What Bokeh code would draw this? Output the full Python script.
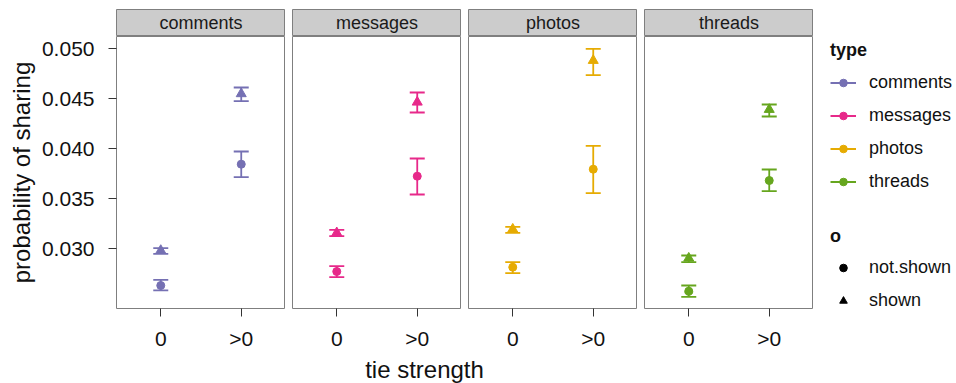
from bokeh.plotting import figure
from bokeh.models import (Range1d, FactorRange, FixedTicker, NumeralTickFormatter, Whisker,
                          TeeHead, ColumnDataSource, Label, Legend, LegendItem)
from bokeh.layouts import row, column
from bokeh.embed import file_html
from bokeh.resources import INLINE

# ---------------- data ----------------
types = ["comments", "messages", "photos", "threads"]
tie_strength = ["0", ">0"]
colors = ["#7570B3", "#E7298A", "#E6AB02", "#66A61E"]

# o = not.shown (circle)
not_shown_mean = [[0.02633, 0.03846], [0.02773, 0.03726], [0.02816, 0.03796], [0.02576, 0.03683]]
not_shown_lo = [[0.02585, 0.03716], [0.02716, 0.03543], [0.02756, 0.03556], [0.02520, 0.03576]]
not_shown_hi = [[0.02690, 0.03973], [0.02826, 0.03903], [0.02866, 0.04030], [0.02633, 0.03793]]
# o = shown (triangle)
shown_mean = [[0.02983, 0.04550], [0.03160, 0.04466], [0.03196, 0.04883], [0.02906, 0.04393]]
shown_lo = [[0.02950, 0.04476], [0.03126, 0.04363], [0.03160, 0.04736], [0.02866, 0.04323]]
shown_hi = [[0.03006, 0.04613], [0.03190, 0.04563], [0.03220, 0.05000], [0.02933, 0.04443]]

y_ticks = [0.030, 0.035, 0.040, 0.045, 0.050]

FONT = "Liberation Sans"
GREY = "#7f7f7f"
Y_START, Y_END = 0.02403, 0.05123


def base_fig(**kw):
    p = figure(output_backend="svg", toolbar_location=None, min_border_left=0,
               min_border_right=0, min_border_top=0, min_border_bottom=0, **kw)
    p.grid.visible = False
    return p


strips, panels = [], []
for i, t in enumerate(types):
    c = colors[i]
    left = 116 if i == 0 else 7
    # strip
    s = base_fig(x_range=Range1d(0, 1), y_range=Range1d(0, 1), frame_width=169, frame_height=27,
                 x_axis_location=None, y_axis_location=None, background_fill_color="#cccccc",
                 outline_line_color=GREY)
    s.min_border_left = left
    s.min_border_top = 9
    s.add_layout(Label(x=0.5, y=0.5, text=t, text_align="center", text_baseline="middle",
                       text_font_size="18px", text_font=FONT, text_color="#1a1a1a"))
    strips.append(s)

    # panel
    p = base_fig(x_range=FactorRange(factors=tie_strength, range_padding=0.05),
                 y_range=Range1d(Y_START, Y_END), frame_width=169, frame_height=272,
                 y_axis_location="left" if i == 0 else None, outline_line_color=GREY)
    p.min_border_left = left
    p.min_border_bottom = 47

    src_ns = ColumnDataSource(dict(x=tie_strength, y=not_shown_mean[i],
                                   lo=not_shown_lo[i], hi=not_shown_hi[i]))
    src_sh = ColumnDataSource(dict(x=tie_strength, y=shown_mean[i],
                                   lo=shown_lo[i], hi=shown_hi[i]))
    for src in (src_ns, src_sh):
        p.add_layout(Whisker(source=src, base="x", upper="hi", lower="lo", dimension="height",
                             line_color=c, line_width=1.8,
                             upper_head=TeeHead(size=15, line_color=c, line_width=1.8),
                             lower_head=TeeHead(size=15, line_color=c, line_width=1.8)))
    p.scatter("x", "y", source=src_ns, marker="circle", size=8, color=c)
    p.scatter("x", "y", source=src_sh, marker="triangle", size=10, color=c)

    xa = p.xaxis[0]
    xa.axis_line_color = None
    xa.major_tick_out = 8
    xa.major_tick_in = 0
    xa.major_tick_line_color = "#333333"
    xa.major_label_text_font_size = "21px"
    xa.major_label_text_font = FONT
    xa.major_label_text_color = "#111111"
    xa.major_label_standoff = 10

    if i == 0:
        ya = p.yaxis[0]
        ya.ticker = FixedTicker(ticks=y_ticks)
        ya.formatter = NumeralTickFormatter(format="0.000")
        ya.axis_line_color = None
        ya.minor_tick_line_color = None
        ya.major_tick_out = 8
        ya.major_tick_in = 0
        ya.major_tick_line_color = "#333333"
        ya.major_label_text_font_size = "21px"
        ya.major_label_text_font = FONT
        ya.major_label_text_color = "#111111"
        ya.major_label_standoff = 14
        ya.axis_label = "probability of sharing"
        ya.axis_label_text_font_size = "24px"
        ya.axis_label_text_font = FONT
        ya.axis_label_text_font_style = "normal"
        ya.axis_label_text_color = "#111111"
        ya.axis_label_standoff = 4
    panels.append(p)

# x title
xt = base_fig(x_range=Range1d(0, 1), y_range=Range1d(0, 1), frame_width=778, frame_height=28,
              x_axis_location=None, y_axis_location=None, outline_line_color=None)
xt.min_border_left = 35
xt.add_layout(Label(x=0.5, y=0.5, text="tie strength", text_align="center", text_baseline="middle",
                    text_font_size="24px", text_font=FONT, text_color="#111111"))

# legend figure (key renderers hold off-screen placeholder points)
lf = base_fig(x_range=Range1d(0, 1), y_range=Range1d(0, 1), frame_width=143, frame_height=383,
              x_axis_location=None, y_axis_location=None, outline_line_color=None)
off_x, off_y = [-10, -9], [-10, -9]
type_items = []
for t, c in zip(types, colors):
    lr = lf.line(x=off_x, y=off_y, line_color=c, line_width=2)
    sr = lf.scatter(x=off_x, y=off_y, marker="circle", color=c)
    type_items.append(LegendItem(label=t, renderers=[lr, sr]))
r_ns = lf.scatter(x=off_x, y=off_y, marker="circle", color="black")
r_sh = lf.scatter(x=off_x, y=off_y, marker="triangle", color="black")
o_items = [LegendItem(label="not.shown", renderers=[r_ns]), LegendItem(label="shown", renderers=[r_sh])]

common = dict(title_text_font_style="bold", title_text_font_size="18px", title_text_font=FONT,
              title_text_color="#111111",
              label_text_font_size="18px", label_text_font=FONT, label_text_color="#111111",
              glyph_width=26, glyph_height=19, label_height=33, spacing=0, padding=0, margin=0,
              label_standoff=13, border_line_color=None, background_fill_alpha=0)
leg1 = Legend(items=type_items, title="type", location=(17, 185), title_standoff=5, **common)
leg2 = Legend(items=o_items, title="o", location=(17, 66), title_standoff=4, **common)
lf.add_layout(leg1)
lf.add_layout(leg2)

layout = row(column(row(*strips), row(*panels), xt), lf)
open("out.html", "w").write(file_html(layout, INLINE))
